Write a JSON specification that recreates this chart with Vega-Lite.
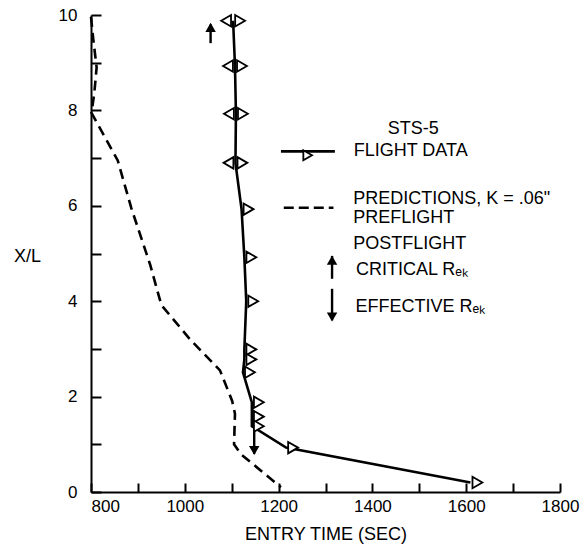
{
  "$schema": "https://vega.github.io/schema/vega-lite/v6.json",
  "width": 469,
  "height": 477,
  "autosize": {"type": "none"},
  "padding": {"left": 91, "top": 15, "right": 23, "bottom": 62},
  "background": "white",
  "config": {
    "view": {"stroke": null},
    "font": "Liberation Sans",
    "axis": {
      "domainColor": "black", "tickColor": "black", "labelColor": "black", "titleColor": "black",
      "labelFont": "Liberation Sans", "titleFont": "Liberation Sans",
      "labelFontSize": 17, "titleFontSize": 18, "titleFontWeight": "normal",
      "grid": false, "domainWidth": 2, "tickWidth": 2
    }
  },
  "datasets": {
    "flight": [
      {"i": 1, "t": 1103, "v": 9.88, "flag": "both"},
      {"i": 2, "t": 1107, "v": 8.93, "flag": "both"},
      {"i": 3, "t": 1109, "v": 7.93, "flag": "both"},
      {"i": 4, "t": 1108, "v": 6.9, "flag": "both"},
      {"i": 5, "t": 1121, "v": 5.93, "flag": "right"},
      {"i": 6, "t": 1127, "v": 4.92, "flag": "right"},
      {"i": 7, "t": 1131, "v": 4.0, "flag": "right"},
      {"i": 8, "t": 1127, "v": 2.99, "flag": "right"},
      {"i": 9, "t": 1127, "v": 2.78, "flag": "right"},
      {"i": 10, "t": 1124, "v": 2.51, "flag": "right"},
      {"i": 11, "t": 1143, "v": 1.88, "flag": "right"},
      {"i": 12, "t": 1143, "v": 1.58, "flag": "right"},
      {"i": 13, "t": 1143, "v": 1.38, "flag": "right"},
      {"i": 14, "t": 1216, "v": 0.93, "flag": "right"},
      {"i": 15, "t": 1609, "v": 0.2, "flag": "right"}
    ],
    "preflight": [
      {"i": 1, "t": 800, "v": 9.96},
      {"i": 2, "t": 805, "v": 9.48},
      {"i": 3, "t": 812, "v": 8.9},
      {"i": 4, "t": 807, "v": 8.36},
      {"i": 5, "t": 801, "v": 7.95},
      {"i": 6, "t": 857, "v": 6.95},
      {"i": 7, "t": 886, "v": 5.95},
      {"i": 8, "t": 926, "v": 4.77},
      {"i": 9, "t": 950, "v": 3.92},
      {"i": 10, "t": 1012, "v": 3.19},
      {"i": 11, "t": 1075, "v": 2.55},
      {"i": 12, "t": 1101, "v": 1.91},
      {"i": 13, "t": 1107, "v": 1.64},
      {"i": 14, "t": 1105, "v": 1.0},
      {"i": 15, "t": 1120, "v": 0.79},
      {"i": 16, "t": 1205, "v": 0.1}
    ],
    "arrows": [
      {"t": 1055, "top": 9.8, "bottom": 9.41},
      {"t": 1148, "top": 1.27, "bottom": 0.8},
      {"t": 1314, "top": 4.95, "bottom": 4.47},
      {"t": 1314, "top": 4.26, "bottom": 3.6}
    ],
    "heads": [
      {"t": 1055, "v": 9.74, "dir": "up"},
      {"t": 1148, "v": 0.87, "dir": "down"},
      {"t": 1314, "v": 4.86, "dir": "up"},
      {"t": 1314, "v": 3.67, "dir": "down"}
    ],
    "legendLines": [
      {"t": 1205, "t2": 1320, "v": 7.14, "kind": "solid"},
      {"t": 1211, "t2": 1317, "v": 5.96, "kind": "dashed"}
    ],
    "legendFlag": [
      {"t": 1262, "v": 7.06}
    ],
    "labels": [
      {"label": "STS-5", "t": 1487, "v": 7.61, "align": "center"},
      {"label": "FLIGHT DATA", "t": 1360, "v": 7.14, "align": "left"},
      {"label": "PREDICTIONS, K = .06\"", "t": 1359, "v": 6.14, "align": "left"},
      {"label": "PREFLIGHT", "t": 1359, "v": 5.74, "align": "left"},
      {"label": "POSTFLIGHT", "t": 1359, "v": 5.19, "align": "left"},
      {"label": "CRITICAL Rₑₖ", "t": 1365, "v": 4.65, "align": "left"},
      {"label": "EFFECTIVE Rₑₖ", "t": 1364, "v": 3.87, "align": "left"}
    ]
  },
  "layer": [
    {
      "data": {"name": "preflight"},
      "mark": {"type": "line", "color": "black", "strokeWidth": 2.6, "strokeDash": [10, 6]},
      "encoding": {
        "x": {
          "field": "t", "type": "quantitative",
          "scale": {"domain": [800, 1800], "nice": false, "zero": false},
          "axis": {
            "values": [800, 900, 1000, 1100, 1200, 1300, 1400, 1500, 1600, 1700, 1800],
            "format": "d",
            "labelExpr": "datum.value % 200 == 0 ? datum.label : ''",
            "labelAlign": {"condition": {"test": "datum.value == 800", "value": "left"}, "value": "center"},
            "tickSize": -9,
            "labelPadding": 15,
            "labelBaseline": "top",
            "title": "ENTRY TIME (SEC)",
            "titleY": 42,
            "titleBaseline": "middle"
          }
        },
        "y": {
          "field": "v", "type": "quantitative",
          "scale": {"domain": [0, 10], "nice": false, "zero": false},
          "axis": {
            "values": [0, 1, 2, 3, 4, 5, 6, 7, 8, 9, 10],
            "labelExpr": "datum.value % 2 == 0 ? datum.label : ''",
            "tickSize": -10,
            "labelPadding": 24,
            "title": "X/L",
            "titleAngle": 0,
            "titleX": -64,
            "titleY": 241,
            "titleAlign": "center",
            "titleBaseline": "middle"
          }
        },
        "order": {"field": "i", "type": "quantitative"}
      }
    },
    {
      "data": {"name": "flight"},
      "mark": {"type": "line", "color": "black", "strokeWidth": 2.6},
      "encoding": {
        "x": {"field": "t", "type": "quantitative"},
        "y": {"field": "v", "type": "quantitative"},
        "order": {"field": "i", "type": "quantitative"}
      }
    },
    {
      "data": {"name": "flight"},
      "mark": {"type": "point", "shape": "triangle-right", "filled": true, "fill": "white", "stroke": "black", "strokeWidth": 1.8, "size": 130, "opacity": 1, "xOffset": 7},
      "encoding": {
        "x": {"field": "t", "type": "quantitative"},
        "y": {"field": "v", "type": "quantitative"}
      }
    },
    {
      "data": {"name": "flight"},
      "transform": [{"filter": "datum.flag == 'both'"}],
      "mark": {"type": "point", "shape": "triangle-left", "filled": true, "fill": "white", "stroke": "black", "strokeWidth": 1.8, "size": 130, "opacity": 1, "xOffset": -7},
      "encoding": {
        "x": {"field": "t", "type": "quantitative"},
        "y": {"field": "v", "type": "quantitative"}
      }
    },
    {
      "data": {"name": "arrows"},
      "mark": {"type": "rule", "color": "black", "strokeWidth": 2.4},
      "encoding": {
        "x": {"field": "t", "type": "quantitative"},
        "y": {"field": "top", "type": "quantitative"},
        "y2": {"field": "bottom"}
      }
    },
    {
      "data": {"name": "heads"},
      "mark": {"type": "point", "filled": true, "color": "black", "size": 110, "opacity": 1},
      "encoding": {
        "x": {"field": "t", "type": "quantitative"},
        "y": {"field": "v", "type": "quantitative"},
        "shape": {"field": "dir", "type": "nominal", "scale": {"domain": ["up", "down"], "range": ["triangle-up", "triangle-down"]}, "legend": null}
      }
    },
    {
      "data": {"name": "legendLines"},
      "mark": {"type": "rule", "color": "black", "strokeWidth": 2.6},
      "encoding": {
        "x": {"field": "t", "type": "quantitative"},
        "x2": {"field": "t2"},
        "y": {"field": "v", "type": "quantitative"},
        "strokeDash": {"field": "kind", "type": "nominal", "scale": {"domain": ["solid", "dashed"], "range": [[1, 0], [10, 5]]}, "legend": null}
      }
    },
    {
      "data": {"name": "legendFlag"},
      "mark": {"type": "point", "shape": "triangle-right", "filled": true, "fill": "white", "stroke": "black", "strokeWidth": 1.8, "size": 100, "opacity": 1},
      "encoding": {
        "x": {"field": "t", "type": "quantitative"},
        "y": {"field": "v", "type": "quantitative"}
      }
    },
    {
      "data": {"name": "labels"},
      "transform": [{"filter": "datum.align == 'left'"}],
      "mark": {"type": "text", "font": "Liberation Sans", "fontSize": 18, "color": "black", "baseline": "middle", "align": "left"},
      "encoding": {
        "x": {"field": "t", "type": "quantitative"},
        "y": {"field": "v", "type": "quantitative"},
        "text": {"field": "label"}
      }
    },
    {
      "data": {"name": "labels"},
      "transform": [{"filter": "datum.align == 'center'"}],
      "mark": {"type": "text", "font": "Liberation Sans", "fontSize": 18, "color": "black", "baseline": "middle", "align": "center"},
      "encoding": {
        "x": {"field": "t", "type": "quantitative"},
        "y": {"field": "v", "type": "quantitative"},
        "text": {"field": "label"}
      }
    }
  ]
}
